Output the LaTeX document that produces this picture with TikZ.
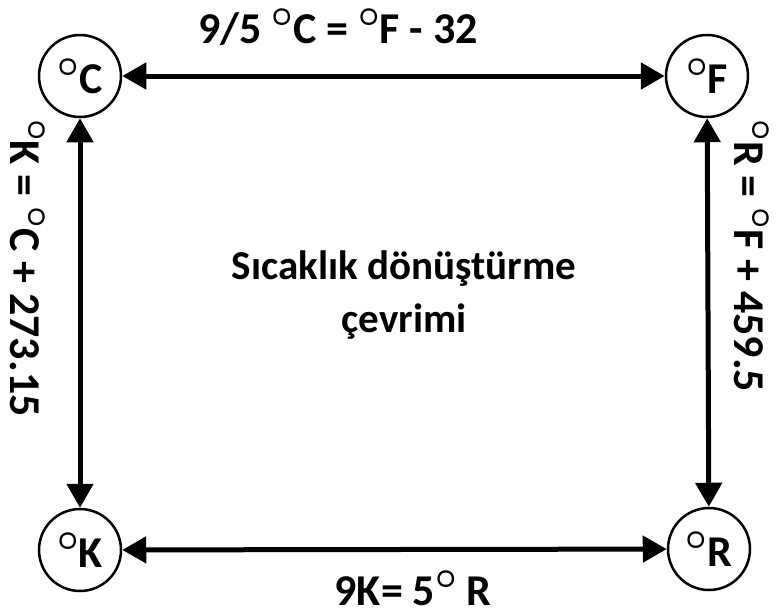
\RequirePackage{fix-cm}
\documentclass[tikz,border=0pt]{standalone}
\usepackage{fontspec}
\usepackage{graphicx}
\setmainfont{Carlito}
\usetikzlibrary{arrows.meta}
\newcommand{\degr}{\raisebox{0.39em}{\scalebox{0.85}{\boldmath$\circ$}}}

\begin{document}
\begin{tikzpicture}[x=1pt,y=-1pt,
    temp/.style={circle, draw, line width=2.5pt, minimum size=82pt, inner sep=0pt,
        font=\bfseries\fontsize{44}{50}\selectfont},
    conv/.style={{Triangle[length=24pt,width=26pt]}-{Triangle[length=24pt,width=26pt]}, line width=5pt},
    eqn/.style={font=\bfseries\fontsize{44}{53}\selectfont, inner sep=0pt}]
    \useasboundingbox (0,0) rectangle (782,614);

    % Temperature scales
    \node[temp] (C) at (80,76) {\degr C};
    \node[temp] (F) at (707,76) {\degr F};
    \node[temp] (K) at (80,550) {\degr K};
    \node[temp] (R) at (709,549) {\degr R};

    % Conversions
    \draw[conv] (C) -- (F);
    \draw[conv] (C) -- (K);
    \draw[conv] (F) -- (R);
    \draw[conv] (K) -- (R);

    % Formulas
    \node[eqn] (cf) at (338,27) {9/5 \degr C = \degr F - 32};
    \node[eqn] (kr) at (413,588) {9K= 5\degr\ R};
    \node[eqn, rotate=-90] (ck) at (28,268) {\degr K = \degr C + 273.15};
    \node[eqn, rotate=-90] (fr) at (752,256) {\degr R = \degr F + 459.5};

    % Title
    \node[eqn, font=\bfseries\fontsize{41}{53}\selectfont, align=center] (title) at (404,295) {Sıcaklık dönüştürme\\çevrimi};
\end{tikzpicture}
\end{document}
